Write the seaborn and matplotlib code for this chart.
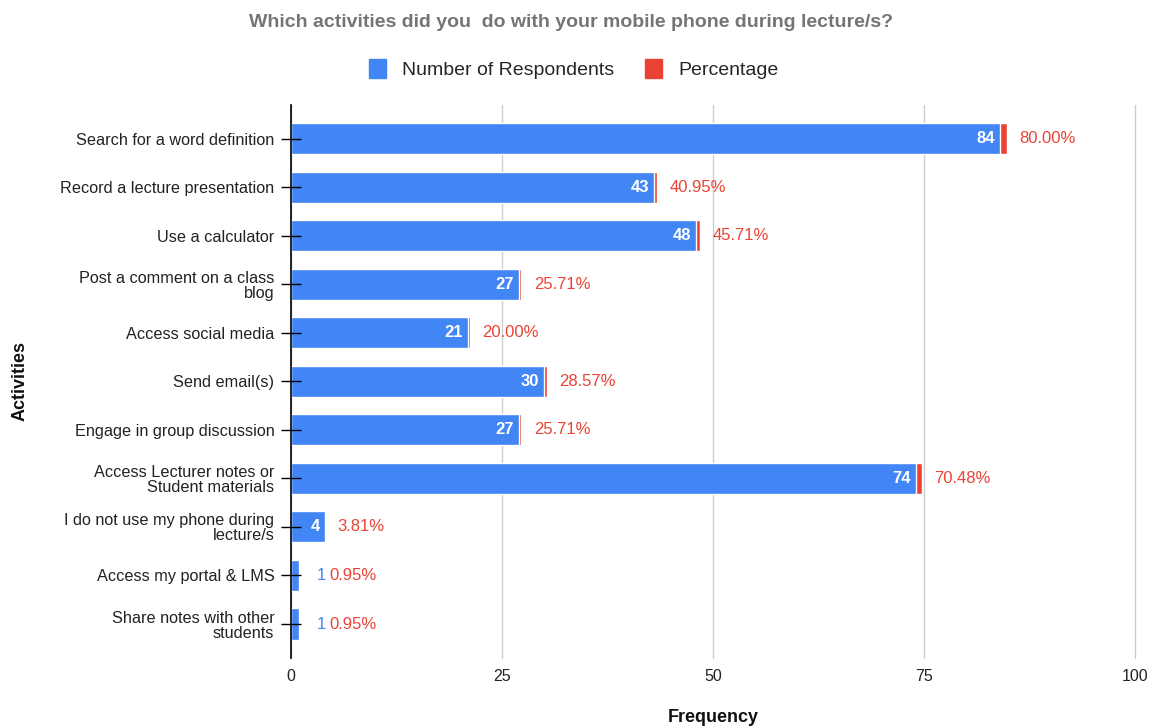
import matplotlib
matplotlib.use("Agg")
import matplotlib.pyplot as plt
import seaborn as sns
import pandas as pd
from matplotlib.patches import Patch

activities = [
    "Search for a word definition",
    "Record a lecture presentation",
    "Use a calculator",
    "Post a comment on a class\nblog",
    "Access social media",
    "Send email(s)",
    "Engage in group discussion",
    "Access Lecturer notes or\nStudent materials",
    "I do not use my phone during\nlecture/s",
    "Access my portal & LMS",
    "Share notes with other\nstudents",
]
respondents = [84, 43, 48, 27, 21, 30, 27, 74, 4, 1, 1]
percentages = [80.00, 40.95, 45.71, 25.71, 20.00, 28.57, 25.71, 70.48, 3.81, 0.95, 0.95]
x_ticks = [0, 25, 50, 75, 100]

BLUE = "#4285F4"
RED = "#EA4335"

sns.set_theme(style="white")
plt.rcParams['font.family'] = ['Liberation Sans', 'DejaVu Sans']

df = pd.DataFrame({
    "Activity": activities,
    "Respondents": respondents,
    "Percentage": percentages,
})
df["Total"] = df["Respondents"] + df["Percentage"] / 100.0

fig = plt.figure(figsize=(11.49, 7.28), dpi=100)
ax = fig.add_axes([0.2533, 0.0962, 0.7345, 0.7598])

sns.barplot(data=df, y="Activity", x="Total", color=RED, orient="h",
            width=0.64, ax=ax, saturation=1)
sns.barplot(data=df, y="Activity", x="Respondents", color=BLUE, orient="h",
            width=0.64, ax=ax, saturation=1)

for i, (n, p, t) in enumerate(zip(respondents, percentages, df["Total"])):
    if n >= 4:
        ax.text(n - 0.6, i, str(n), color="white", fontsize=12, fontweight="bold",
                ha="right", va="center")
        ax.text(t + 1.5, i, f"{p:.2f}%", color=RED, fontsize=12,
                ha="left", va="center")
    else:
        ax.text(n + 2.0, i, str(n), color=BLUE, fontsize=12,
                ha="left", va="center")
        ax.text(n + 3.5, i, f"{p:.2f}%", color=RED, fontsize=12,
                ha="left", va="center")

ax.set_xlim(0, 100)
ax.set_ylim(10.7, -0.7)
ax.set_xticks(x_ticks)
ax.set_xticklabels([str(v) for v in x_ticks], fontsize=11.5)
ax.tick_params(axis="x", length=0, pad=8, colors="#222222")
ax.tick_params(axis="y", left=True, direction="inout", length=14, width=1, color="black",
               labelsize=11.7, pad=5, labelcolor="#222222")
for lbl in ax.get_yticklabels():
    lbl.set_multialignment("right")
    lbl.set_linespacing(1.0)

ax.xaxis.grid(True, color="#cccccc", linewidth=1)
for gl in ax.get_xgridlines():
    gl.set_clip_on(False)
ax.set_axisbelow(True)
ax.yaxis.set_zorder(3)
for s in ["top", "right", "bottom"]:
    ax.spines[s].set_visible(False)
ax.spines["left"].set_color("black")
ax.spines["left"].set_linewidth(1.2)
ax.spines["left"].set_zorder(5)

ax.set_xlabel("Frequency", fontsize=13, fontweight="bold", color="#111111")
ax.xaxis.set_label_coords(0.5, -0.092)
ax.set_ylabel("Activities", fontsize=13, fontweight="bold", color="#111111")
ax.yaxis.set_label_coords(-0.311, 0.5)

fig.text(0.497, 0.969, "Which activities did you  do with your mobile phone during lecture/s?",
         ha="center", va="center", fontsize=14, fontweight="bold", color="#757575")

handles = [Patch(facecolor=BLUE, edgecolor=BLUE, label="Number of Respondents"),
           Patch(facecolor=RED, edgecolor=RED, label="Percentage")]
fig.legend(handles=handles, loc="center", bbox_to_anchor=(0.499, 0.905), ncol=2,
           frameon=False, fontsize=14, handlelength=0.9, handleheight=1.1,
           columnspacing=1.6, handletextpad=0.8)

fig.savefig("out.png", dpi=100)
